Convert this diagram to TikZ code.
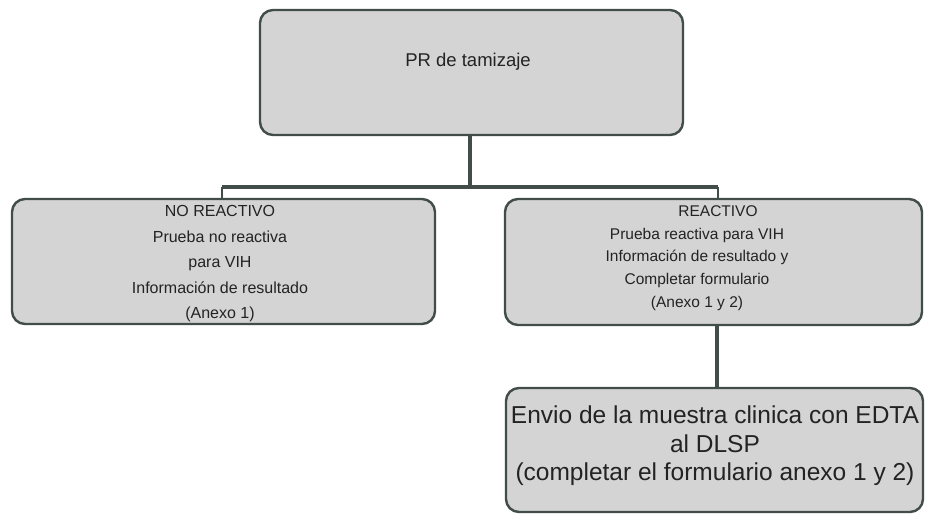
\documentclass[tikz,border=0pt]{standalone}
\usepackage{fontspec}
\setmainfont{Liberation Sans}
\definecolor{boxfill}{RGB}{212,212,212}
\definecolor{edge}{RGB}{66,76,72}
\definecolor{ink}{RGB}{35,35,35}
\begin{document}
\begin{tikzpicture}[x=1pt,y=-1pt,
  box/.style={draw=edge,line width=2.4pt,fill=boxfill,rounded corners=13pt},
  conn/.style={draw=edge,line width=3.2pt},
  txt/.style={text=ink,align=center,inner sep=0pt}]
\useasboundingbox (0,0) rectangle (925,514);
% boxes
\draw[box] (260,10) rectangle (683,135);
\draw[box] (12,199) rectangle (435,324);
\draw[box] (505,199) rectangle (922,325);
\draw[box] (506,388) rectangle (923,512);
% named anchors
\coordinate (topB) at (470,135);
\coordinate (hub) at (470,187);
\coordinate (hl) at (222,187);
\coordinate (hr) at (718,187);
\coordinate (lT) at (222,199);
\coordinate (rT) at (718,199);
\coordinate (rB) at (717,325);
\coordinate (bT) at (717,388);
% text nodes
\node[txt,font=\fontsize{18.5}{20}\selectfont] (top) at (468,62) {PR de tamizaje};
\node[txt,font=\fontsize{16}{25.5}\selectfont] (left) at (220,264)
  {NO REACTIVO\\Prueba no reactiva\\para VIH\\Información de resultado\\(Anexo 1)};
\node[txt,font=\fontsize{15.5}{22.8}\selectfont] (right) at (697,258)
  {\hspace*{42pt}REACTIVO\\Prueba reactiva para VIH\\Información de resultado y\\Completar formulario\\(Anexo 1 y 2)};
\node[txt,font=\fontsize{24.5}{28.5}\selectfont] (bot) at (715,446)
  {Envio de la muestra clinica con EDTA\\al DLSP\\(completar el formulario anexo 1 y 2)};
% connectors
\draw[conn] (topB) -- (hub);
\draw[conn] (hl) -- (hr);
\draw[conn,line width=2pt] (hl) -- (lT);
\draw[conn,line width=2pt] (hr) -- (rT);
\draw[conn] (rB) -- (bT);
\end{tikzpicture}
\end{document}
